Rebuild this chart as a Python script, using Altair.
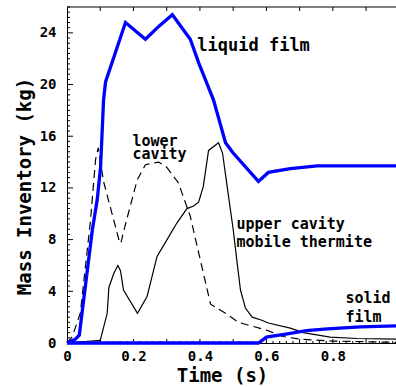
import altair as alt
import pandas as pd

# ---- axis ranges -------------------------------------------------------
X_MAX = 0.99
Y_MAX = 26
WIDTH = 329
HEIGHT = 336

# ---- series (time in s, mass in kg) -----------------------------------
liquid_t = [0, 0.025, 0.037, 0.076, 0.091, 0.101, 0.110, 0.116, 0.176, 0.236,
            0.276, 0.317, 0.371, 0.396, 0.441, 0.477, 0.500, 0.576, 0.606,
            0.672, 0.753, 0.99]
liquid_v = [0, 0.3, 0.6, 8.7, 11.1, 13.6, 18.8, 20.2, 24.8, 23.5,
            24.5, 25.4, 23.5, 21.7, 18.8, 15.5, 14.7, 12.5, 13.2,
            13.5, 13.7, 13.7]

solid_t = [0, 0.576, 0.600, 0.663, 0.720, 0.783, 0.883, 0.99]
solid_v = [0, 0, 0.45, 0.7, 0.95, 1.1, 1.25, 1.32]

lower_t = [0, 0.016, 0.040, 0.070, 0.086, 0.094, 0.110, 0.156, 0.162, 0.170,
           0.211, 0.236, 0.276, 0.300, 0.335, 0.371, 0.396, 0.432, 0.477,
           0.516, 0.550, 0.600, 0.650, 0.700, 0.800, 0.99]
lower_v = [0, 0.5, 2.3, 9.3, 14.2, 15.1, 12.5, 8.0, 7.7, 8.6,
           12.6, 13.8, 14.0, 13.6, 12.4, 9.8, 7.0, 3.0, 2.3,
           1.6, 1.35, 1.0, 0.5, 0.3, 0.15, 0.05]

upper_t = [0, 0.100, 0.121, 0.126, 0.141, 0.153, 0.161, 0.170, 0.212, 0.241,
           0.271, 0.301, 0.331, 0.361, 0.381, 0.396, 0.410, 0.426, 0.456,
           0.468, 0.482, 0.500, 0.512, 0.522, 0.537, 0.557, 0.582, 0.606,
           0.672, 0.711, 0.792, 0.873, 0.99]
upper_v = [0, 0.2, 2.3, 4.3, 5.4, 6.0, 5.6, 4.1, 2.3, 3.6,
           6.7, 8.0, 9.3, 10.4, 10.6, 10.9, 12.1, 14.9, 15.5,
           14.7, 12.1, 8.8, 6.2, 4.1, 2.7, 2.0, 1.8, 1.55,
           1.15, 0.8, 0.45, 0.35, 0.3]

# ---- annotations -------------------------------------------------------
big_labels = ["liquid film"]
big_t = [0.392]
big_v = [22.6]

small_labels = ["lower", "cavity", "upper cavity", "mobile thermite", "solid", "film"]
small_t = [0.197, 0.197, 0.510, 0.510, 0.838, 0.838]
small_v = [15.25, 14.24, 8.8, 7.4, 3.1, 1.63]

# ---- tick positions ----------------------------------------------------
x_label_values = [0, 0.2, 0.4, 0.6, 0.8]
y_label_values = [0, 4, 8, 12, 16, 20, 24]
y_minor = [round(i * 0.4, 1) for i in range(1, 66) if i % 10 != 0]
x_tenths = [round(i * 0.1, 1) for i in range(1, 10)]
x_minor = [round(i * 0.02, 2) for i in range(1, 50) if i % 5 != 0]

FONT = "DejaVu Sans Mono"

x_axis = alt.Axis(
    values=x_label_values, format="~g", ticks=False, tickSize=0,
    labelPadding=6, labelFlush=False, labelOverlap=False, grid=False,
    domainColor="black", domainWidth=1,
    labelFont=FONT, labelFontSize=14, labelFontWeight="bold", labelColor="black",
    title="Time (s)", titleFont=FONT, titleFontSize=19, titleFontWeight="bold",
    titleColor="black", titleX=155, titleY=38, titleBaseline="alphabetic",
    titleAlign="center",
)
y_axis = alt.Axis(
    values=y_label_values, format="d", ticks=False, tickSize=0,
    labelPadding=11, labelFlush=False, labelOverlap=False, grid=False,
    domainColor="black", domainWidth=1,
    labelFont=FONT, labelFontSize=14, labelFontWeight="bold", labelColor="black",
    title="Mass Inventory (kg)", titleFont=FONT, titleFontSize=19,
    titleFontWeight="bold", titleColor="black", titleAngle=270,
    titleX=-37, titleY=179, titleBaseline="alphabetic", titleAlign="center",
)

xenc = alt.X("t:Q", scale=alt.Scale(domain=[0, X_MAX], nice=False, zero=False), axis=x_axis)
yenc = alt.Y("v:Q", scale=alt.Scale(domain=[0, Y_MAX], nice=False), axis=y_axis)


def series(ts, vs):
    return pd.DataFrame({"t": ts, "v": vs})


# inward tick marks
left_major = alt.Chart(pd.DataFrame({"v": y_label_values})).mark_rule(
    color="black", strokeWidth=1
).encode(y=yenc, x=alt.value(0), x2=alt.value(6))
left_minor = alt.Chart(pd.DataFrame({"v": y_minor})).mark_rule(
    color="black", strokeWidth=1
).encode(y=yenc, x=alt.value(0), x2=alt.value(3))
top_ticks = alt.Chart(pd.DataFrame({"t": x_tenths})).mark_rule(
    color="black", strokeWidth=1
).encode(x=xenc, y=alt.value(0), y2=alt.value(4))
bottom_major = alt.Chart(pd.DataFrame({"t": x_tenths})).mark_rule(
    color="black", strokeWidth=1
).encode(x=xenc, y=alt.value(HEIGHT), y2=alt.value(HEIGHT - 4))
bottom_minor = alt.Chart(pd.DataFrame({"t": x_minor})).mark_rule(
    color="black", strokeWidth=1
).encode(x=xenc, y=alt.value(HEIGHT), y2=alt.value(HEIGHT - 2))
top_frame = alt.Chart(pd.DataFrame({"t": [0]})).mark_rule(
    color="black", strokeWidth=1
).encode(x=alt.datum(0), x2=alt.datum(X_MAX), y=alt.value(0))

lower_line = alt.Chart(series(lower_t, lower_v)).mark_line(
    color="black", strokeWidth=1.2, strokeDash=[8, 5]
).encode(x=xenc, y=yenc)
upper_line = alt.Chart(series(upper_t, upper_v)).mark_line(
    color="black", strokeWidth=1.2
).encode(x=xenc, y=yenc)
liquid_line = alt.Chart(series(liquid_t, liquid_v)).mark_line(
    color="#0000ff", strokeWidth=3.3
).encode(x=xenc, y=yenc)
solid_line = alt.Chart(series(solid_t, solid_v)).mark_line(
    color="#0000ff", strokeWidth=3.3
).encode(x=xenc, y=yenc)

big_text = alt.Chart(pd.DataFrame({"t": big_t, "v": big_v, "label": big_labels})).mark_text(
    font=FONT, fontSize=17, fontWeight="bold", align="left", baseline="alphabetic", color="black"
).encode(x=xenc, y=yenc, text="label:N")
small_text = alt.Chart(pd.DataFrame({"t": small_t, "v": small_v, "label": small_labels})).mark_text(
    font=FONT, fontSize=15, fontWeight="bold", align="left", baseline="alphabetic", color="black"
).encode(x=xenc, y=yenc, text="label:N")

chart = alt.layer(
    left_major, left_minor, top_ticks, bottom_major, bottom_minor, top_frame,
    lower_line, upper_line, liquid_line, solid_line, big_text, small_text,
).properties(
    width=WIDTH, height=HEIGHT,
    autosize=alt.AutoSizeParams(type="none"),
    padding={"left": 67, "top": 7, "right": 0, "bottom": 44},
    background="white",
).configure_view(stroke=None)

chart.save("out.html", embed_options={"renderer": "svg", "actions": False})
